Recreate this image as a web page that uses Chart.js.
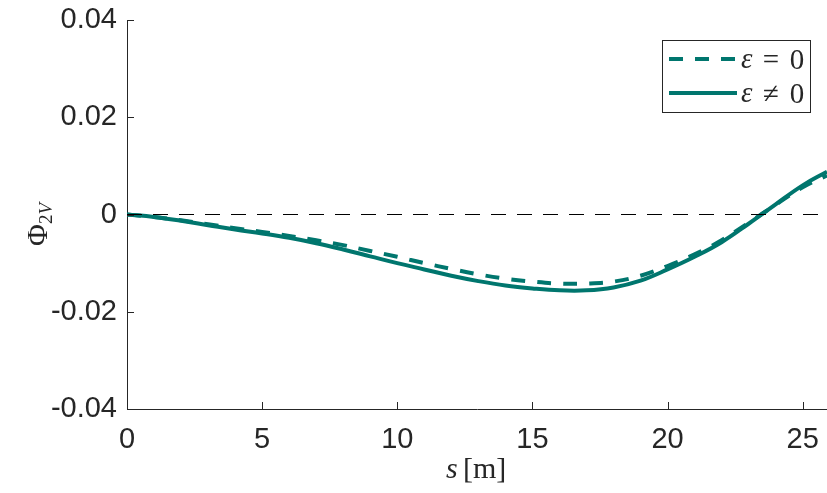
<!DOCTYPE html>
<html>
<head>
<meta charset="utf-8">
<script src="https://cdn.jsdelivr.net/npm/chart.js@4.4.1/dist/chart.umd.min.js"></script>
<style>
  html, body { margin: 0; padding: 0; background: #fff; }
</style>
</head>
<body>
<canvas id="phiChart" width="827" height="493"></canvas>
<script>
// s [m] sample positions and the two Phi_2V curves
const sValues = [0, 1, 2, 3, 4, 5, 6, 7, 8, 9, 10, 11, 12, 13, 14, 15, 16, 17, 18, 19, 20, 21, 22, 23, 24, 25, 25.9];
const phiEps0 = [0, -0.0005, -0.0012, -0.0020, -0.0028, -0.0036, -0.0044, -0.0053, -0.0063, -0.0075, -0.0087,
  -0.0100, -0.0112, -0.0123, -0.0132, -0.0138, -0.0142, -0.0142, -0.0138, -0.0126, -0.0106, -0.0082,
  -0.0053, -0.0017, 0.0020, 0.0056, 0.0080];
const phiEpsNon0 = [0, -0.0005, -0.0013, -0.0022, -0.0031, -0.0039, -0.0048, -0.0059, -0.0072, -0.0086, -0.0100,
  -0.0113, -0.0126, -0.0137, -0.0146, -0.0152, -0.0156, -0.0156, -0.0150, -0.0136, -0.0113, -0.0087,
  -0.0057, -0.0019, 0.0021, 0.0060, 0.0088];

const xTickValues = [0, 5, 10, 15, 20, 25];
const yTickValues = [-0.04, -0.02, 0, 0.02, 0.04];
const yTickLabels = ['-0.04', '-0.02', '0', '0.02', '0.04'];

const TEAL = '#00766E';
const AXIS = '#262626';

const toPoints = ys => sValues.map((s, i) => ({ x: s, y: ys[i] }));

// inward tick marks, legend box and the math-style axis titles
const matlabDecor = {
    id: 'matlabDecor',
    afterDraw(chart) {
        const { ctx, chartArea: area, scales: { x, y } } = chart;
        ctx.save();
        ctx.strokeStyle = AXIS;
        ctx.lineWidth = 1;
        ctx.beginPath();
        x.ticks.forEach(t => {
            const px = Math.round(x.getPixelForValue(t.value)) + 0.5;
            ctx.moveTo(px, area.bottom);
            ctx.lineTo(px, area.bottom - 7);
        });
        y.ticks.forEach(t => {
            const py = Math.round(y.getPixelForValue(t.value)) + 0.5;
            ctx.moveTo(area.left, py);
            ctx.lineTo(area.left + 7, py);
        });
        ctx.stroke();

        // legend
        ctx.fillStyle = '#fff';
        ctx.fillRect(662.5, 40.5, 148, 72);
        ctx.strokeStyle = AXIS;
        ctx.strokeRect(662.5, 40.5, 148, 72);
        const rows = [
            { ds: chart.data.datasets[1], y: 59, op: '=' },
            { ds: chart.data.datasets[2], y: 93, op: '\u2260' }
        ];
        rows.forEach(r => {
            ctx.strokeStyle = r.ds.borderColor;
            ctx.lineWidth = r.ds.borderWidth;
            ctx.setLineDash(r.ds.borderDash || []);
            ctx.beginPath();
            ctx.moveTo(669, r.y);
            ctx.lineTo(737, r.y);
            ctx.stroke();
            ctx.setLineDash([]);
            ctx.fillStyle = AXIS;
            ctx.textBaseline = 'alphabetic';
            ctx.textAlign = 'left';
            ctx.font = 'italic 29px "Liberation Serif"';
            ctx.fillText('\u03b5', 741, r.y + 9);
            ctx.textAlign = 'center';
            ctx.font = '29px "Liberation Serif"';
            ctx.fillText(r.op, 771, r.y + 10);
            ctx.fillText('0', 797, r.y + 10);
        });

        // x title: s [m]
        ctx.fillStyle = AXIS;
        ctx.textAlign = 'left';
        ctx.textBaseline = 'alphabetic';
        ctx.font = 'italic 30px "Liberation Serif"';
        ctx.fillText('s', 446, 478);
        ctx.font = '30px "Liberation Serif"';
        ctx.fillText('[m]', 463, 478);

        // y title: Phi_2V, rotated
        ctx.translate(47, 246);
        ctx.rotate(-Math.PI / 2);
        ctx.font = '30px "Liberation Serif"';
        ctx.fillText('\u03a6', 0, 0);
        const w = ctx.measureText('\u03a6').width;
        ctx.font = '19px "Liberation Serif"';
        ctx.fillText('2', w, 5);
        const w2 = ctx.measureText('2').width;
        ctx.font = 'italic 19px "Liberation Serif"';
        ctx.fillText('V', w + w2, 5);
        ctx.restore();
    }
};

new Chart(document.getElementById('phiChart'), {
    type: 'line',
    data: {
        datasets: [
            {
                label: 'zero',
                data: [{ x: 0, y: 0 }, { x: 25.9, y: 0 }],
                borderColor: '#000',
                borderWidth: 1,
                borderDash: [15, 11],
                pointRadius: 0
            },
            {
                label: '\u03b5 = 0',
                data: toPoints(phiEps0),
                borderColor: TEAL,
                borderWidth: 4,
                borderDash: [14, 12],
                pointRadius: 0,
                tension: 0.4
            },
            {
                label: '\u03b5 \u2260 0',
                data: toPoints(phiEpsNon0),
                borderColor: TEAL,
                borderWidth: 4,
                pointRadius: 0,
                tension: 0.4
            }
        ]
    },
    options: {
        responsive: false,
        animation: false,
        devicePixelRatio: 1,
        layout: { padding: { top: 20, right: 0, left: 0, bottom: 0 } },
        plugins: { legend: { display: false }, tooltip: { enabled: false } },
        scales: {
            x: {
                type: 'linear',
                min: 0,
                max: 25.9,
                afterFit: s => {
                    s.height = 84;
                    s.paddingLeft = 0;
                    s.paddingRight = 0;
                },
                afterBuildTicks: s => { s.ticks = xTickValues.map(v => ({ value: v })); },
                grid: { display: false, drawTicks: false },
                border: { display: true, color: AXIS, width: 1 },
                ticks: {
                    padding: 14,
                    color: AXIS,
                    maxRotation: 0,
                    font: { family: '"Liberation Sans"', size: 29 },
                    callback: v => String(v)
                }
            },
            y: {
                type: 'linear',
                min: -0.04,
                max: 0.04,
                afterFit: s => {
                    s.width = 127;
                    s.paddingTop = 0;
                    s.paddingBottom = 0;
                },
                afterBuildTicks: s => { s.ticks = yTickValues.map(v => ({ value: v })); },
                grid: { display: false, drawTicks: false },
                border: { display: true, color: AXIS, width: 1 },
                ticks: {
                    padding: 10,
                    color: AXIS,
                    font: { family: '"Liberation Sans"', size: 29 },
                    callback: v => yTickLabels[yTickValues.indexOf(v)]
                }
            }
        }
    },
    plugins: [matlabDecor]
});
</script>
</body>
</html>
